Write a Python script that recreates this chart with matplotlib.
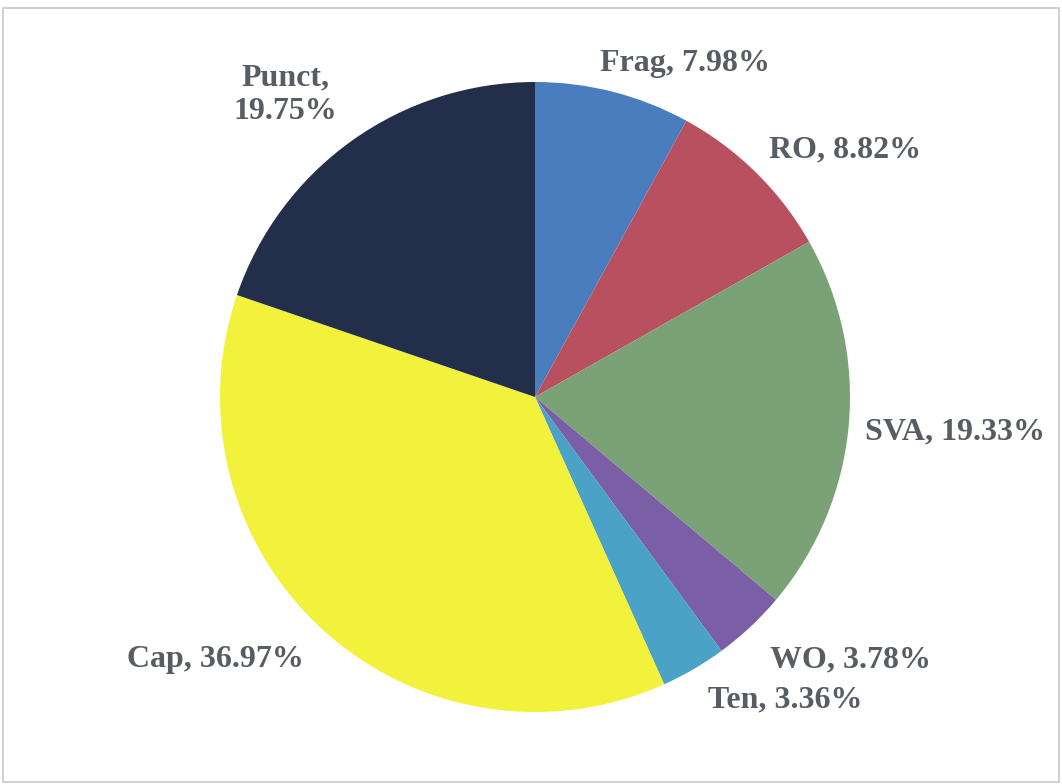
import matplotlib.pyplot as plt
from matplotlib.patches import Rectangle

# error categories and their shares (%)
categories = ['Frag', 'RO', 'SVA', 'WO', 'Ten', 'Cap', 'Punct']
shares = [7.98, 8.82, 19.33, 3.78, 3.36, 36.97, 19.75]
colors = ['#4a7dbd', '#b9505f', '#7ba276', '#7a5ea6', '#4aa2c6', '#f2f23c', '#232f4a']

# label anchors in pixel coordinates (x from left, y from top)
label_xy = [(685, 63), (845, 150), (955, 432), (850, 660), (785, 700), (215, 660), (285, 95)]
label_text = ['Frag, 7.98%', 'RO, 8.82%', 'SVA, 19.33%', 'WO, 3.78%',
              'Ten, 3.36%', 'Cap, 36.97%', 'Punct,\n19.75%']

W, H = 1062, 784
fig = plt.figure(figsize=(W / 100, H / 100), dpi=100)
ax = fig.add_axes([0, 0, 1, 1])
ax.set_xlim(0, W)
ax.set_ylim(0, H)
ax.set_aspect('equal')
ax.axis('off')

ax.pie(shares, colors=colors, startangle=90, counterclock=False,
       center=(535, H - 397), radius=315, frame=True,
       wedgeprops=dict(linewidth=0))
ax.set_xlim(0, W)
ax.set_ylim(0, H)
ax.axis('off')

for (x, y), t in zip(label_xy, label_text):
    ax.text(x, H - y, t, ha='center', va='center', fontsize=23,
            fontweight='bold', family='Liberation Serif', color='#575d63',
            linespacing=1.2)

# thin frame around the chart area
ax.add_patch(Rectangle((3, 2), W - 6, H - 10, fill=False, edgecolor='#c8c8c8', linewidth=1.2))

fig.savefig('out.png', dpi=100)
plt.close()
